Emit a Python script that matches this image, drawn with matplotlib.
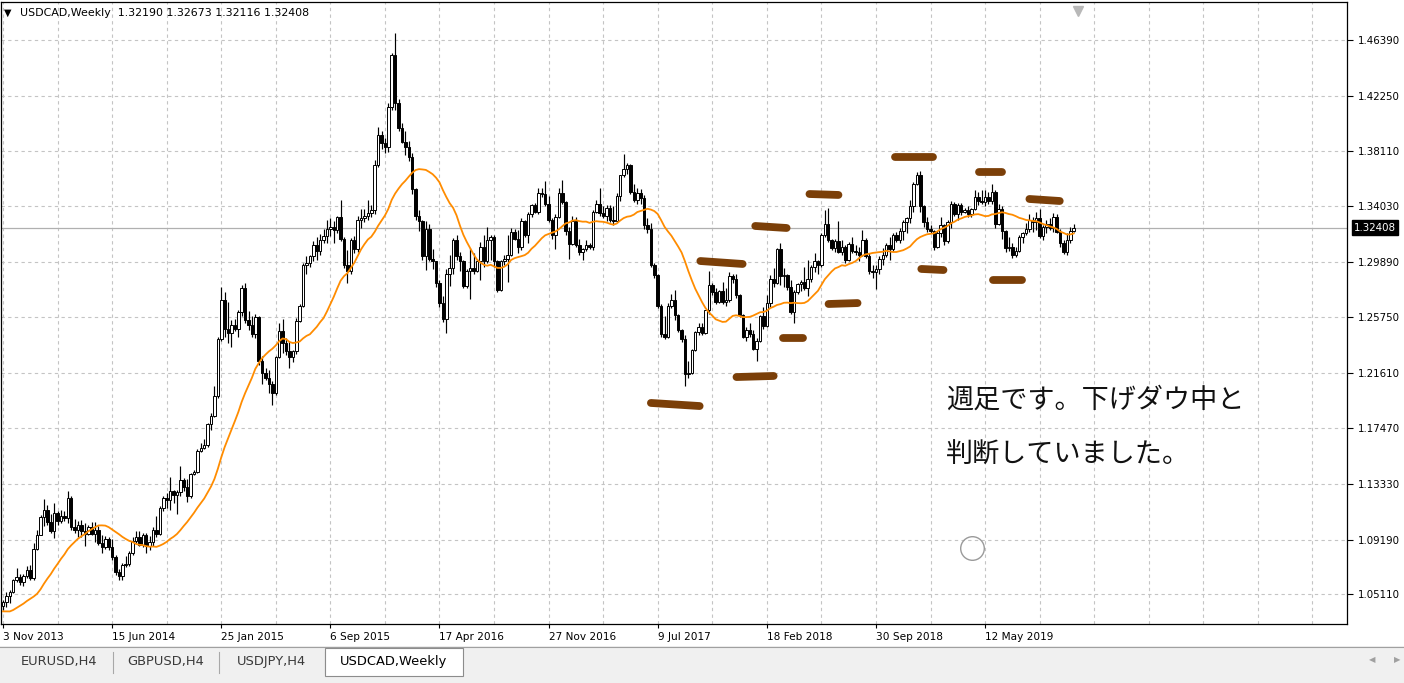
import numpy as np
import pandas as pd
import matplotlib
matplotlib.use("Agg")
import matplotlib.pyplot as plt
from matplotlib.patches import Rectangle

# ---------------- data ----------------
symbol_title = "USDCAD,Weekly"
date_labels = ["3 Nov 2013", "15 Jun 2014", "25 Jan 2015", "6 Sep 2015", "17 Apr 2016",
               "27 Nov 2016", "9 Jul 2017", "18 Feb 2018", "30 Sep 2018", "12 May 2019"]
date_label_bars = [0, 32, 64, 96, 128, 160, 192, 224, 256, 288]
price_ticks = [1.46390, 1.42250, 1.38110, 1.34030, 1.29890, 1.25750,
               1.21610, 1.17470, 1.13330, 1.09190, 1.05110]

opens = [
1.0425, 1.0450, 1.0500, 1.0530, 1.0615, 1.0640, 1.0600, 1.0645, 1.0690, 1.0635,
1.0850, 1.0955, 1.1090, 1.1140, 1.1050, 1.0980, 1.1120, 1.1060, 1.1095, 1.1080,
1.1225, 1.1015, 1.0990, 1.1030, 1.0980, 1.0960, 1.1015, 1.0960, 1.0990, 1.0890,
1.0860, 1.0920, 1.0860, 1.0790, 1.0680, 1.0650, 1.0730, 1.0740, 1.0815, 1.0910,
1.0940, 1.0880, 1.0950, 1.0870, 1.0900, 1.0990, 1.0960, 1.1150, 1.1230, 1.1210,
1.1280, 1.1250, 1.1270, 1.1360, 1.1310, 1.1240, 1.1405, 1.1425, 1.1580, 1.1600,
1.1620, 1.1780, 1.1840, 1.1990, 1.2410, 1.2700, 1.2490, 1.2460, 1.2520, 1.2490,
1.2610, 1.2790, 1.2555, 1.2520, 1.2450, 1.2575, 1.2245, 1.2160, 1.2125, 1.2080,
1.2010, 1.2280, 1.2470, 1.2380, 1.2320, 1.2280, 1.2320, 1.2550, 1.2660, 1.2960,
1.2980, 1.3030, 1.3110, 1.3070, 1.3150, 1.3180, 1.3230, 1.3250, 1.3225, 1.3320,
1.3160, 1.2960, 1.2920, 1.3150, 1.3080, 1.3300, 1.3310, 1.3330, 1.3350, 1.3370,
1.3710, 1.3930, 1.3870, 1.3840, 1.4140, 1.4530, 1.4170, 1.3980, 1.3880, 1.3840,
1.3770, 1.3530, 1.3330, 1.3290, 1.3030, 1.3230, 1.3010, 1.2990, 1.2830, 1.2680,
1.2560, 1.2900, 1.2940, 1.3150, 1.3030, 1.2990, 1.2810, 1.2920, 1.2940, 1.2920,
1.2990, 1.3100, 1.2990, 1.3150, 1.3170, 1.2990, 1.2780, 1.2990, 1.3010, 1.3040,
1.3210, 1.3160, 1.3100, 1.3290, 1.3190, 1.3340, 1.3410, 1.3360, 1.3500, 1.3490,
1.3420, 1.3300, 1.3190, 1.3320, 1.3500, 1.3430, 1.3220, 1.3120, 1.3290, 1.3110,
1.3060, 1.3080, 1.3110, 1.3100, 1.3360, 1.3420, 1.3350, 1.3330, 1.3390, 1.3300,
1.3290, 1.3480, 1.3630, 1.3680, 1.3710, 1.3510, 1.3450, 1.3500, 1.3460, 1.3260,
1.3230, 1.2960, 1.2890, 1.2660, 1.2450, 1.2430, 1.2655, 1.2700, 1.2590, 1.2480,
1.2410, 1.2150, 1.2160, 1.2330, 1.2465, 1.2500, 1.2460, 1.2625, 1.2815, 1.2760,
1.2690, 1.2770, 1.2690, 1.2700, 1.2880, 1.2860, 1.2740, 1.2590, 1.2430, 1.2480,
1.2450, 1.2340, 1.2400, 1.2580, 1.2510, 1.2680, 1.2860, 1.2830, 1.3080, 1.2880,
1.2890, 1.2800, 1.2610, 1.2760, 1.2820, 1.2840, 1.2790, 1.2860, 1.2950, 1.2990,
1.2960, 1.3190, 1.3270, 1.3150, 1.3090, 1.3140, 1.3060, 1.3100, 1.3000, 1.3120,
1.3070, 1.3060, 1.3040, 1.3150, 1.3030, 1.2920, 1.2910, 1.2930, 1.3010, 1.3040,
1.3115, 1.3080, 1.3190, 1.3150, 1.3220, 1.3280, 1.3310, 1.3400, 1.3570, 1.3630,
1.3400, 1.3280, 1.3230, 1.3220, 1.3100, 1.3200, 1.3260, 1.3140, 1.3280, 1.3420,
1.3340, 1.3410, 1.3360, 1.3370, 1.3340, 1.3380, 1.3470, 1.3440, 1.3430, 1.3470,
1.3440, 1.3510, 1.3270, 1.3380, 1.3215, 1.3090, 1.3100, 1.3040, 1.3070, 1.3170,
1.3200, 1.3230, 1.3300, 1.3280, 1.3310, 1.3180, 1.3250, 1.3270, 1.3240, 1.3320,
1.3210, 1.3130, 1.3060, 1.3150, 1.32190,
]

highs = [
1.0470, 1.0525, 1.0540, 1.0625, 1.0705, 1.0665, 1.0660, 1.0720, 1.0730, 1.0890,
1.0990, 1.1100, 1.1224, 1.1175, 1.1110, 1.1190, 1.1135, 1.1140, 1.1130, 1.1279,
1.1240, 1.1075, 1.1060, 1.1065, 1.1040, 1.1030, 1.1050, 1.1050, 1.1020, 1.0950,
1.0945, 1.0940, 1.0920, 1.0800, 1.0700, 1.0745, 1.0795, 1.0830, 1.0940, 1.0985,
1.0985, 1.0965, 1.0965, 1.0945, 1.1015, 1.1095, 1.1165, 1.1240, 1.1265, 1.1385,
1.1290, 1.1290, 1.1465, 1.1375, 1.1370, 1.1415, 1.1440, 1.1590, 1.1640, 1.1665,
1.1790, 1.1860, 1.2060, 1.2430, 1.2800, 1.2765, 1.2690, 1.2555, 1.2560, 1.2630,
1.2815, 1.2833, 1.2620, 1.2580, 1.2600, 1.2585, 1.2285, 1.2200, 1.2180, 1.2100,
1.2285, 1.2530, 1.2560, 1.2420, 1.2400, 1.2330, 1.2570, 1.2670, 1.2980, 1.3030,
1.3040, 1.3140, 1.3170, 1.3195, 1.3230, 1.3300, 1.3315, 1.3290, 1.3330, 1.3450,
1.3170, 1.3075, 1.3165, 1.3180, 1.3330, 1.3380, 1.3380, 1.3445, 1.3410, 1.3745,
1.3994, 1.3960, 1.3910, 1.4167, 1.4540, 1.4689, 1.4200, 1.4020, 1.3960, 1.3890,
1.3800, 1.3540, 1.3370, 1.3300, 1.3290, 1.3270, 1.3080, 1.2995, 1.2850, 1.2730,
1.2930, 1.3040, 1.3165, 1.3190, 1.3060, 1.3000, 1.2930, 1.3090, 1.3050, 1.3010,
1.3135, 1.3190, 1.3250, 1.3190, 1.3190, 1.3000, 1.3000, 1.3040, 1.3190, 1.3240,
1.3230, 1.3225, 1.3310, 1.3300, 1.3360, 1.3420, 1.3425, 1.3535, 1.3540, 1.3590,
1.3480, 1.3310, 1.3340, 1.3535, 1.3595, 1.3440, 1.3250, 1.3325, 1.3320, 1.3160,
1.3090, 1.3150, 1.3130, 1.3375, 1.3450, 1.3535, 1.3400, 1.3410, 1.3410, 1.3400,
1.3500, 1.3635, 1.3793, 1.3720, 1.3715, 1.3570, 1.3535, 1.3530, 1.3485, 1.3310,
1.3275, 1.2975, 1.2900, 1.2670, 1.2580, 1.2680, 1.2750, 1.2775, 1.2600, 1.2490,
1.2440, 1.2250, 1.2340, 1.2470, 1.2530, 1.2530, 1.2630, 1.2915, 1.2830, 1.2790,
1.2780, 1.2840, 1.2790, 1.2910, 1.2900, 1.2900, 1.2750, 1.2600, 1.2500, 1.2530,
1.2480, 1.2420, 1.2590, 1.2650, 1.2740, 1.2890, 1.2940, 1.3090, 1.3125, 1.2940,
1.2900, 1.2850, 1.2780, 1.2830, 1.2850, 1.2950, 1.3000, 1.2965, 1.3050, 1.3000,
1.3200, 1.3373, 1.3386, 1.3160, 1.3160, 1.3290, 1.3150, 1.3110, 1.3137, 1.3170,
1.3113, 1.3100, 1.3224, 1.3165, 1.3050, 1.2960, 1.2960, 1.3030, 1.3090, 1.3125,
1.3170, 1.3200, 1.3212, 1.3237, 1.3300, 1.3323, 1.3447, 1.3584, 1.3658, 1.3665,
1.3410, 1.3323, 1.3261, 1.3225, 1.3215, 1.3323, 1.3270, 1.3300, 1.3440, 1.3435,
1.3423, 1.3423, 1.3386, 1.3400, 1.3390, 1.3522, 1.3510, 1.3520, 1.3520, 1.3510,
1.3565, 1.3520, 1.3420, 1.3400, 1.3225, 1.3175, 1.3125, 1.3100, 1.3187, 1.3212,
1.3274, 1.3340, 1.3320, 1.3361, 1.3380, 1.3260, 1.3300, 1.3311, 1.3348, 1.3340,
1.3230, 1.3150, 1.3200, 1.3250, 1.32673,
]

lows = [
1.0395, 1.0420, 1.0445, 1.0520, 1.0600, 1.0580, 1.0570, 1.0630, 1.0615, 1.0620,
1.0840, 1.0950, 1.1020, 1.1030, 1.0966, 1.0930, 1.1030, 1.1040, 1.1060, 1.1040,
1.0990, 1.0966, 1.0941, 1.0940, 1.0870, 1.0950, 1.0950, 1.0900, 1.0880, 1.0815,
1.0845, 1.0840, 1.0765, 1.0655, 1.0620, 1.0620, 1.0715, 1.0720, 1.0805, 1.0895,
1.0870, 1.0860, 1.0815, 1.0840, 1.0870, 1.0940, 1.0950, 1.1130, 1.1150, 1.1140,
1.1190, 1.1110, 1.1240, 1.1280, 1.1200, 1.1225, 1.1400, 1.1415, 1.1570, 1.1595,
1.1610, 1.1735, 1.1830, 1.1970, 1.2400, 1.2425, 1.2380, 1.2355, 1.2470, 1.2430,
1.2580, 1.2530, 1.2480, 1.2425, 1.2420, 1.2220, 1.2080, 1.2110, 1.2010, 1.1920,
1.1995, 1.2270, 1.2310, 1.2290, 1.2195, 1.2240, 1.2300, 1.2540, 1.2650, 1.2900,
1.2950, 1.2990, 1.3000, 1.3040, 1.3130, 1.3125, 1.3180, 1.3130, 1.3200, 1.3140,
1.2940, 1.2830, 1.2900, 1.3050, 1.3060, 1.3240, 1.3280, 1.3300, 1.3320, 1.3340,
1.3690, 1.3830, 1.3800, 1.3808, 1.4118, 1.4118, 1.3960, 1.3870, 1.3780, 1.3740,
1.3490, 1.3300, 1.3220, 1.3000, 1.2925, 1.2990, 1.2930, 1.2800, 1.2650, 1.2540,
1.2460, 1.2810, 1.2900, 1.3000, 1.2920, 1.2790, 1.2790, 1.2710, 1.2900, 1.2910,
1.2850, 1.2950, 1.2980, 1.3000, 1.2950, 1.2760, 1.2770, 1.2960, 1.2840, 1.3030,
1.3150, 1.3050, 1.3075, 1.3175, 1.3130, 1.3320, 1.3350, 1.3345, 1.3470, 1.3400,
1.3280, 1.3160, 1.3080, 1.3310, 1.3420, 1.3190, 1.3010, 1.3110, 1.3100, 1.3040,
1.3000, 1.3070, 1.3080, 1.3075, 1.3350, 1.3330, 1.3310, 1.3290, 1.3280, 1.3260,
1.3280, 1.3440, 1.3620, 1.3640, 1.3495, 1.3430, 1.3420, 1.3420, 1.3230, 1.3200,
1.2950, 1.2865, 1.2640, 1.2430, 1.2410, 1.2420, 1.2640, 1.2555, 1.2467, 1.2393,
1.2060, 1.2120, 1.2150, 1.2320, 1.2440, 1.2440, 1.2450, 1.2600, 1.2740, 1.2670,
1.2680, 1.2670, 1.2660, 1.2690, 1.2830, 1.2720, 1.2575, 1.2418, 1.2395, 1.2430,
1.2330, 1.2250, 1.2390, 1.2490, 1.2500, 1.2650, 1.2800, 1.2820, 1.2815, 1.2800,
1.2777, 1.2600, 1.2529, 1.2750, 1.2770, 1.2777, 1.2730, 1.2840, 1.2910, 1.2900,
1.2950, 1.3170, 1.3137, 1.3075, 1.3063, 1.3050, 1.3038, 1.2976, 1.2990, 1.3050,
1.3040, 1.2990, 1.3030, 1.3013, 1.2900, 1.2870, 1.2785, 1.2900, 1.2960, 1.3020,
1.3000, 1.3070, 1.3137, 1.3130, 1.3150, 1.3200, 1.3274, 1.3360, 1.3560, 1.3361,
1.3249, 1.3212, 1.3199, 1.3075, 1.3090, 1.3174, 1.3112, 1.3130, 1.3237, 1.3330,
1.3299, 1.3336, 1.3348, 1.3323, 1.3323, 1.3373, 1.3410, 1.3420, 1.3400, 1.3420,
1.3420, 1.3240, 1.3260, 1.3160, 1.3063, 1.3068, 1.3013, 1.3026, 1.3060, 1.3125,
1.3187, 1.3212, 1.3212, 1.3224, 1.3162, 1.3150, 1.3200, 1.3224, 1.3212, 1.3200,
1.3100, 1.3042, 1.3040, 1.3130, 1.32116,
]

closes = [
1.0450, 1.0500, 1.0530, 1.0615, 1.0640, 1.0600, 1.0645, 1.0690, 1.0635, 1.0850,
1.0955, 1.1090, 1.1140, 1.1050, 1.0980, 1.1120, 1.1060, 1.1095, 1.1080, 1.1225,
1.1015, 1.0990, 1.1030, 1.0980, 1.0960, 1.1015, 1.0960, 1.0990, 1.0890, 1.0860,
1.0920, 1.0860, 1.0790, 1.0680, 1.0650, 1.0730, 1.0740, 1.0815, 1.0910, 1.0940,
1.0880, 1.0950, 1.0870, 1.0900, 1.0990, 1.0960, 1.1150, 1.1230, 1.1210, 1.1280,
1.1250, 1.1270, 1.1360, 1.1310, 1.1240, 1.1405, 1.1425, 1.1580, 1.1600, 1.1620,
1.1780, 1.1840, 1.1990, 1.2410, 1.2700, 1.2490, 1.2460, 1.2520, 1.2490, 1.2610,
1.2790, 1.2555, 1.2520, 1.2450, 1.2575, 1.2245, 1.2160, 1.2125, 1.2080, 1.2010,
1.2280, 1.2470, 1.2380, 1.2320, 1.2280, 1.2320, 1.2550, 1.2660, 1.2960, 1.2980,
1.3030, 1.3110, 1.3070, 1.3150, 1.3180, 1.3230, 1.3250, 1.3225, 1.3320, 1.3160,
1.2960, 1.2920, 1.3150, 1.3080, 1.3300, 1.3310, 1.3330, 1.3350, 1.3370, 1.3710,
1.3930, 1.3870, 1.3840, 1.4140, 1.4530, 1.4170, 1.3980, 1.3880, 1.3840, 1.3770,
1.3530, 1.3330, 1.3290, 1.3030, 1.3230, 1.3010, 1.2990, 1.2830, 1.2680, 1.2560,
1.2900, 1.2940, 1.3150, 1.3030, 1.2990, 1.2810, 1.2920, 1.2940, 1.2920, 1.2990,
1.3100, 1.2990, 1.3150, 1.3170, 1.2990, 1.2780, 1.2990, 1.3010, 1.3040, 1.3210,
1.3160, 1.3100, 1.3290, 1.3190, 1.3340, 1.3410, 1.3360, 1.3500, 1.3490, 1.3420,
1.3300, 1.3190, 1.3320, 1.3500, 1.3430, 1.3220, 1.3120, 1.3290, 1.3110, 1.3060,
1.3080, 1.3110, 1.3100, 1.3360, 1.3420, 1.3350, 1.3330, 1.3390, 1.3300, 1.3290,
1.3480, 1.3630, 1.3680, 1.3710, 1.3510, 1.3450, 1.3500, 1.3460, 1.3260, 1.3230,
1.2960, 1.2890, 1.2660, 1.2450, 1.2430, 1.2655, 1.2700, 1.2590, 1.2480, 1.2410,
1.2150, 1.2160, 1.2330, 1.2465, 1.2500, 1.2460, 1.2625, 1.2815, 1.2760, 1.2690,
1.2770, 1.2690, 1.2700, 1.2880, 1.2860, 1.2740, 1.2590, 1.2430, 1.2480, 1.2450,
1.2340, 1.2400, 1.2580, 1.2510, 1.2680, 1.2860, 1.2830, 1.3080, 1.2880, 1.2890,
1.2800, 1.2610, 1.2760, 1.2820, 1.2840, 1.2790, 1.2860, 1.2950, 1.2990, 1.2960,
1.3190, 1.3270, 1.3150, 1.3090, 1.3140, 1.3060, 1.3100, 1.3000, 1.3120, 1.3070,
1.3060, 1.3040, 1.3150, 1.3030, 1.2920, 1.2910, 1.2930, 1.3010, 1.3040, 1.3115,
1.3080, 1.3190, 1.3150, 1.3220, 1.3280, 1.3310, 1.3400, 1.3570, 1.3630, 1.3400,
1.3280, 1.3230, 1.3220, 1.3100, 1.3200, 1.3260, 1.3140, 1.3280, 1.3420, 1.3340,
1.3410, 1.3360, 1.3370, 1.3340, 1.3380, 1.3470, 1.3440, 1.3430, 1.3470, 1.3440,
1.3510, 1.3270, 1.3380, 1.3215, 1.3090, 1.3100, 1.3040, 1.3070, 1.3170, 1.3200,
1.3230, 1.3300, 1.3280, 1.3310, 1.3180, 1.3250, 1.3270, 1.3240, 1.3320, 1.3210,
1.3130, 1.3060, 1.3150, 1.3220, 1.32408,
]

# weekly closes before the first visible bar (only used to warm up the moving average)
warmup_closes = [1.0510, 1.0530, 1.0400, 1.0320, 1.0290, 1.0330, 1.0300, 1.0300, 1.0520, 1.0540,
                 1.0430, 1.0310, 1.0300, 1.0300, 1.0310, 1.0350, 1.0340, 1.0420, 1.0430]
ma_period = 20

# hand-drawn brown level marks: bar index span and price at each end
level_bar_start = [190.0, 204.5, 220.6, 215.1, 228.6, 236.5, 242.1, 261.7, 269.3, 286.3, 290.4, 301.0]
level_bar_end   = [204.3, 216.9, 229.8, 226.0, 234.5, 245.0, 250.6, 272.6, 275.8, 293.1, 298.7, 309.9]
level_price_start = [1.1936, 1.2993, 1.3254, 1.2129, 1.2420, 1.3492, 1.2673, 1.3768, 1.2934, 1.3656, 1.2852, 1.3455]
level_price_end   = [1.1913, 1.2971, 1.3239, 1.2137, 1.2420, 1.3485, 1.2680, 1.3768, 1.2926, 1.3656, 1.2852, 1.3440]

note_lines = ["週足です。下げダウ中と", "判断していました。"]
tab_names = ["EURUSD,H4", "GBPUSD,H4", "USDJPY,H4", "USDCAD,Weekly"]

# ---------------- drawing ----------------
o = np.array(opens); h = np.array(highs); l = np.array(lows); c = np.array(closes)
n = min(len(o), len(h), len(l), len(c))
o, h, l, c = o[:n], h[:n], l[:n], c[:n]
h = np.maximum(h, np.maximum(o, c)); l = np.minimum(l, np.minimum(o, c))
x = np.arange(n)

W, H, DPI = 1404, 683, 100
fig = plt.figure(figsize=(W / DPI, H / DPI), dpi=DPI)
fig.patch.set_facecolor("white")

def px_box(left, top, right, bottom):
    return [left / W, 1 - bottom / H, (right - left) / W, (bottom - top) / H]

AX_L, AX_T, AX_R, AX_B = 1, 2, 1347, 624
ax = fig.add_axes(px_box(AX_L, AX_T, AX_R, AX_B))
bar_px, bar0_px = 3.41, 3.0
ax.set_xlim((AX_L - bar0_px) / bar_px, (AX_R - bar0_px) / bar_px)
px_per_price = 554.3 / (1.46390 - 1.05110)
y_top_px = 40.0
ax.set_ylim(1.46390 - (AX_B - y_top_px) / px_per_price, 1.46390 + (y_top_px - AX_T) / px_per_price)
ax.set_facecolor("white")

grid_kw = dict(color="#c4c4c4", lw=0.8, ls=(0, (3, 3)), zorder=0)
for p in price_ticks:
    ax.axhline(p, **grid_kw)
for b in np.arange(0, ax.get_xlim()[1], 16):
    ax.axvline(b, **grid_kw)

# current price line
ax.axhline(c[-1], color="#b0b0b0", lw=0.9, zorder=1)

# candles
up = c >= o
ax.vlines(x, l, h, color="black", lw=0.85, zorder=2)
bb = np.minimum(o, c); bh = np.abs(c - o)
ax.bar(x[up], bh[up], bottom=bb[up], width=0.74, color="white", edgecolor="black", linewidth=0.7, zorder=3)
ax.bar(x[~up], bh[~up], bottom=bb[~up], width=0.74, color="black", edgecolor="black", linewidth=0.7, zorder=3)

# moving average
ma = pd.Series(np.r_[warmup_closes, c]).rolling(ma_period).mean().to_numpy()[len(warmup_closes):]
ax.plot(x, ma, color="#ff8c00", lw=1.3, zorder=4)

# brown level marks
for xs, xe, ys, ye in zip(level_bar_start, level_bar_end, level_price_start, level_price_end):
    ax.plot([xs, xe], [ys, ye], color="#7b3f08", lw=5.6, solid_capstyle="round", zorder=6)

# note text
jp = ["Noto Sans CJK JP", "DejaVu Sans"]
ax.text(276.6, 1.1958, note_lines[0], fontsize=19.5, family=jp, va="center", ha="left", color="#111111", zorder=7)
ax.text(276.6, 1.1549, note_lines[1], fontsize=19.5, family=jp, va="center", ha="left", color="#111111", zorder=7)
# circle marker
ax.plot([284.2], [1.0856], marker="o", ms=17, mfc="none", mec="#9a9a9a", mew=1.0, zorder=7)

# chart shift marker at the top
ax.plot([n + 0.2], [0.985], marker="v", ms=7, color="#b8b8b8", transform=ax.get_xaxis_transform(), clip_on=False, zorder=8)

# axes / ticks
for s in ax.spines.values():
    s.set_color("black"); s.set_linewidth(0.9)
ax.set_xticks(date_label_bars)
ax.set_xticklabels(date_labels, fontsize=7.6)
for t in ax.get_xticklabels():
    t.set_horizontalalignment("left")
ax.tick_params(axis="x", direction="out", length=3, pad=3, width=0.8, colors="black")
ax.yaxis.tick_right()
ax.set_yticks(price_ticks)
ax.set_yticklabels([f"{p:.5f}" for p in price_ticks], fontsize=7.4)
ax.tick_params(axis="y", direction="out", length=4, pad=4, width=0.8)

# current price tag
ax.annotate(f"{c[-1]:.5f}", xy=(1.0, c[-1]), xycoords=ax.get_yaxis_transform(),
            xytext=(7, 0), textcoords="offset pixels", ha="left", va="center",
            fontsize=7.4, color="white",
            bbox=dict(boxstyle="square,pad=0.22", fc="black", ec="black"), annotation_clip=False, zorder=9)

# header
fig.text(4 / W, 1 - 13 / H, "▼", fontsize=7, va="center", ha="left")
fig.text(20 / W, 1 - 13 / H, f"{symbol_title}  {o[-1]:.5f} {h[-1]:.5f} {l[-1]:.5f} {c[-1]:.5f}",
         fontsize=7.9, va="center", ha="left")

# bottom tab bar
def fig_rect(left, top, right, bottom, **kw):
    r = Rectangle((left / W, 1 - bottom / H), (right - left) / W, (bottom - top) / H,
                  transform=fig.transFigure, **kw)
    fig.patches.append(r)

fig_rect(0, 646, W, H, fc="#f0f0f0", ec="none", zorder=0)
fig.add_artist(plt.Line2D([0, 1], [1 - 647 / H] * 2, transform=fig.transFigure, color="#a0a0a0", lw=0.8))
tab_edges = [5, 113, 219, 325, 463]
for i, name in enumerate(tab_names):
    left, right = tab_edges[i], tab_edges[i + 1]
    active = (i == len(tab_names) - 1)
    if active:
        fig_rect(left, 648, right, 676, fc="white", ec="#8c8c8c", lw=0.8, zorder=2)
    else:
        fig.add_artist(plt.Line2D([right / W] * 2, [1 - 652 / H, 1 - 673 / H], transform=fig.transFigure,
                                  color="#a8a8a8", lw=0.8))
    fig.text((left + right) / 2 / W, 1 - 662 / H, name, fontsize=9.4, ha="center", va="center",
             color="black" if active else "#3a3a3a", zorder=3)
fig.text(1372 / W, 1 - 660 / H, "◀", fontsize=6, ha="center", va="center", color="#a0a0a0")
fig.text(1397 / W, 1 - 660 / H, "▶", fontsize=6, ha="center", va="center", color="#a0a0a0")

fig.savefig("out.png", dpi=DPI, facecolor="white")
